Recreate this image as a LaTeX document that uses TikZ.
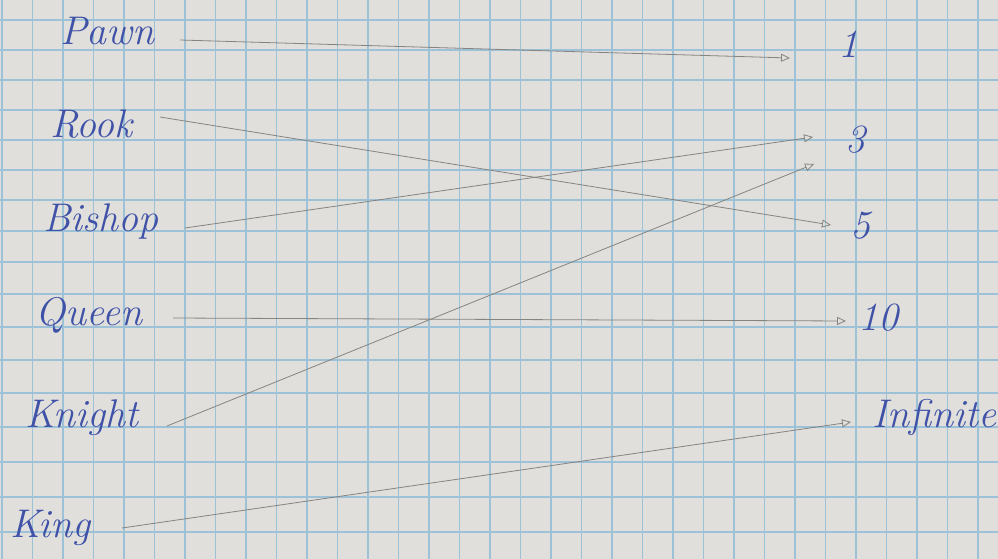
\documentclass[tikz,border=0pt]{standalone}
\usetikzlibrary{arrows.meta}
\definecolor{paper}{HTML}{E1DFDB}
\definecolor{gridblue}{HTML}{9DC2D8}
\definecolor{ink}{HTML}{3F52A8}
\definecolor{pencil}{HTML}{85847F}
\tikzset{
  piece/.style={anchor=base west, inner sep=0pt, text=ink, font=\fontsize{40}{40}\selectfont\itshape},
  link/.style={draw=pencil, line width=0.8pt, -{Triangle[open, length=9pt, width=8pt]}},
  gridline/.style={draw=gridblue, line width=1.1pt},
}
\begin{document}
\begin{tikzpicture}[x=1pt,y=-1pt]
\fill[paper] (0,0) rectangle (998,559);
\useasboundingbox (0,0) rectangle (998,559);
% grid paper
\foreach \k in {0,...,32} \draw[gridline] ({2+30.5*\k},0) -- ({2+30.5*\k},559);
\foreach \y in {20,50,80,110,140,170,200,231,262,294,327,360,393,427,462,497,532} \draw[gridline] (0,\y) -- (998,\y);
% pieces
\node[piece] (pawn)   at (60,45)  {Pawn};
\node[piece] (rook)   at (50,137) {Rook};
\node[piece] (bishop) at (43,231) {Bishop};
\node[piece] (queen)  at (35,325) {Queen};
\node[piece] (knight) at (25,427) {Knight};
\node[piece] (king)   at (10,537) {King};
% values
\node[piece] (one)   at (838,58)  {1};
\node[piece] (three) at (845,152) {3};
\node[piece] (five)  at (850,238) {5};
\node[piece] (ten)   at (858,330) {10};
\node[piece] (inf)   at (872,427) {Infinite};
% connectors
\draw[link] ([xshift=120pt,yshift=5pt]pawn.base west)   -- ([xshift=-48pt]one.base west);
\draw[link] ([xshift=110pt,yshift=20pt]rook.base west)  -- ([xshift=-19pt,yshift=13pt]five.base west);
\draw[link] ([xshift=142pt,yshift=3pt]bishop.base west) -- ([xshift=-32pt,yshift=15pt]three.base west);
\draw[link] ([xshift=138pt,yshift=7pt]queen.base west)  -- ([xshift=-12pt,yshift=9pt]ten.base west);
\draw[link] ([xshift=142pt,yshift=1pt]knight.base west) -- ([xshift=-31pt,yshift=-12pt]three.base west);
\draw[link] ([xshift=112pt,yshift=9pt]king.base west)   -- ([xshift=-21pt,yshift=5pt]inf.base west);
\end{tikzpicture}
\end{document}
